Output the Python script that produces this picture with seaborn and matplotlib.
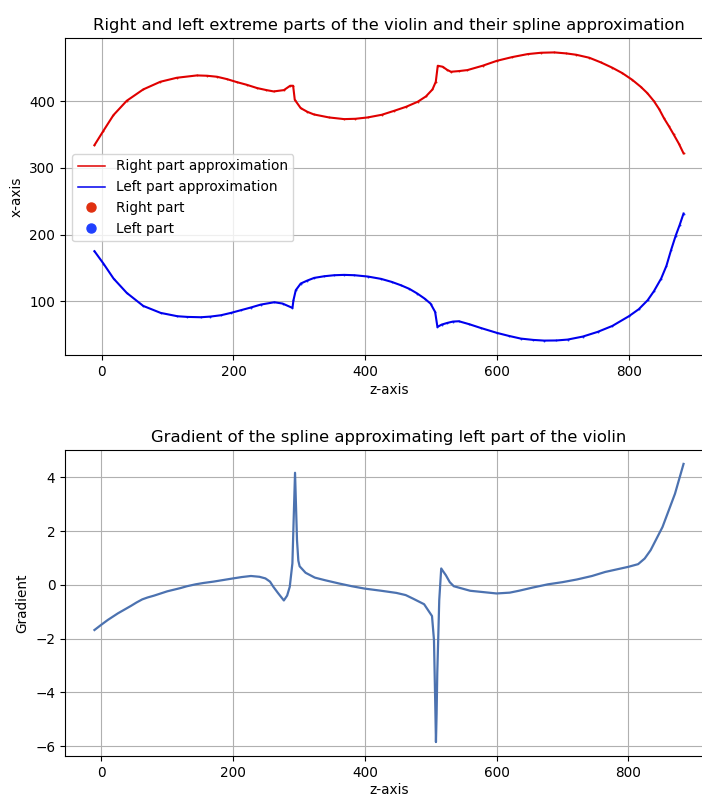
import matplotlib
matplotlib.use("Agg")
import matplotlib.pyplot as plt
import seaborn as sns
import pandas as pd
from matplotlib.lines import Line2D

# Right (upper) extreme part of the violin
z_right = [-11, 2.6, 17.8, 38, 63, 89, 114, 144.5, 160, 175, 190, 205, 220, 236,
           250, 261, 276.5, 286, 290.5, 293, 302, 312, 322, 345, 368, 385, 403.5,
           425, 444, 462, 479.5, 492, 502, 507, 510, 517.5, 524, 530, 542, 555,
           578, 600, 623, 646.5, 667, 687, 705, 720, 740, 757.6, 775, 790, 805,
           818, 828, 838, 846, 853.5, 861, 868, 876, 883]
x_right = [334, 355.5, 379, 400.5, 417.5, 429, 435, 438.5, 438, 436.5, 433,
           428.5, 424.5, 419.5, 416.5, 414.5, 416.5, 423, 423, 402, 389.5, 384,
           380, 375.5, 373, 373.5, 375.5, 379.5, 385.5, 391.5, 399, 407, 417.5,
           429, 453, 451.5, 447, 444, 445, 446.5, 453, 460.5, 466, 470.5, 472.5,
           473, 471.5, 469.5, 465, 458, 450, 442, 432, 421.5, 412, 400, 388,
           374, 362, 350, 336, 321.6]

# Left (lower) extreme part of the violin
z_left = [-11, 2.6, 18, 38, 63, 89.5, 115, 130, 150.5, 165, 181, 196, 211, 226,
          241.5, 262, 274.5, 289.5, 291, 294.5, 302, 312, 322.5, 338, 353, 368,
          383.5, 404, 424, 440, 454, 467, 479, 490, 499, 506, 509.5, 516, 524.5,
          533, 542, 558, 575, 600, 618, 636, 655, 671.5, 690, 707, 730, 752.5,
          775, 800, 815, 828.5, 838, 849, 857, 864, 871, 877, 883]
x_left = [175, 156.5, 134, 112.5, 93, 82.5, 77.5, 76.5, 76, 77, 79, 82.5, 86.5,
          90.5, 95, 98.5, 96.5, 90, 101.5, 116.5, 126.5, 131, 135, 137.5, 139,
          139.5, 139, 137, 133.5, 129, 124, 118.5, 111.5, 104, 96.5, 84, 61.5,
          65, 67.5, 69.5, 70, 65.5, 60, 52.5, 48, 44, 42, 41, 41.2, 42.5, 47,
          54, 63, 77.5, 88, 101.5, 115, 134, 153, 176.5, 198, 214, 231.5]

# Gradient of the left spline
z_grad = [-10.6, 0, 10, 25, 35, 45, 53, 62, 70, 80, 90, 100, 110, 120, 130, 143,
          155, 170, 185, 200, 213, 227, 240, 249, 256, 261, 268, 277, 282, 286,
          290, 292, 294, 296, 297, 299, 301, 310, 324, 340, 361, 380, 400, 425,
          448, 462, 473, 490, 502, 505, 507, 508, 509, 510, 512, 513, 516, 519,
          523, 529, 535, 560, 600, 620, 634, 655, 678, 700, 722, 745, 765, 800,
          815, 825, 834, 852, 871, 884]
grad = [-1.68, -1.48, -1.3, -1.06, -0.92, -0.78, -0.66, -0.54, -0.47, -0.40,
        -0.32, -0.24, -0.18, -0.12, -0.05, 0.02, 0.07, 0.12, 0.18, 0.24, 0.29,
        0.33, 0.30, 0.24, 0.12, -0.07, -0.30, -0.58, -0.40, -0.07, 0.8, 2.5,
        4.17, 2.5, 1.66, 0.9, 0.69, 0.45, 0.27, 0.17, 0.05, -0.05, -0.14, -0.22,
        -0.30, -0.38, -0.51, -0.72, -1.16, -2.05, -4.5, -5.85, -4.8, -3.3, -1.5,
        -0.57, 0.61, 0.5, 0.36, 0.10, -0.05, -0.22, -0.32, -0.29, -0.22, -0.10,
        0.02, 0.10, 0.20, 0.33, 0.48, 0.67, 0.77, 0.98, 1.29, 2.15, 3.39, 4.5]

plt.rcParams['font.family'] = ['DejaVu Sans']
plt.rcParams['font.size'] = 9.8
plt.rcParams['lines.solid_joinstyle'] = 'round'

fig = plt.figure(figsize=(7.02, 7.95), dpi=100)
ax1 = fig.add_axes([65 / 702, 1 - 355 / 795, 648 / 702, 317 / 795])
ax2 = fig.add_axes([65 / 702, 1 - 756 / 795, 648 / 702, 306 / 795])

df_r = pd.DataFrame({"z": z_right, "x": x_right})
df_l = pd.DataFrame({"z": z_left, "x": x_left})
df_g = pd.DataFrame({"z": z_grad, "g": grad})

sns.lineplot(data=df_r, x="z", y="x", ax=ax1, color="#e00000", lw=1.5,
             estimator=None, sort=False)
sns.lineplot(data=df_l, x="z", y="x", ax=ax1, color="#0000ee", lw=1.5,
             estimator=None, sort=False)
sns.scatterplot(data=df_r, x="z", y="x", ax=ax1, color="#e03010", s=2,
                linewidth=0)
sns.scatterplot(data=df_l, x="z", y="x", ax=ax1, color="#2040ff", s=2,
                linewidth=0)

handles = [
    Line2D([], [], color="#e00000", lw=1.1),
    Line2D([], [], color="#0000ee", lw=1.1),
    Line2D([], [], color="#e03010", marker="o", ls="", markersize=6.5),
    Line2D([], [], color="#2040ff", marker="o", ls="", markersize=6.5),
]
labels = ["Right part approximation", "Left part approximation",
          "Right part", "Left part"]
ax1.legend(handles, labels, loc="upper left", bbox_to_anchor=(0.011, 0.634),
           borderaxespad=0, fontsize=9.8, frameon=True)
ax1.set_title("Right and left extreme parts of the violin and their spline approximation",
              fontsize=11.8)
ax1.set_xlabel("z-axis", labelpad=3)
ax1.set_ylabel("x-axis")
ax1.grid(True, color="#b0b0b0", lw=0.8)
ax1.set_axisbelow(True)

sns.lineplot(data=df_g, x="z", y="g", ax=ax2, color="#4c72b0", lw=1.6,
             estimator=None, sort=False)
ax2.set_title("Gradient of the spline approximating left part of the violin",
              fontsize=11.8)
ax2.set_xlabel("z-axis", labelpad=2)
ax2.set_ylabel("Gradient")
ax2.grid(True, color="#b0b0b0", lw=0.8)
ax2.set_axisbelow(True)

for ax in (ax1, ax2):
    ax.set_xticks([0, 200, 400, 600, 800])
    ax.margins(x=0.05, y=0.05)

fig.savefig("out.png", dpi=100)
